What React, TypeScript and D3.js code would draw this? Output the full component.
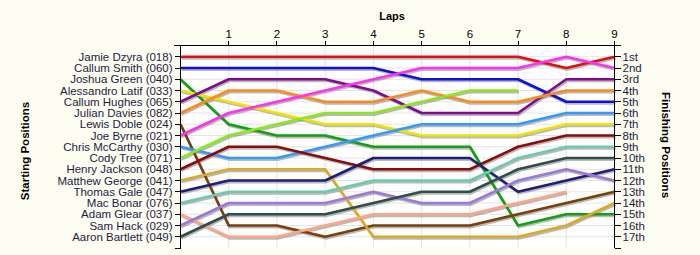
import React from "react";
import * as d3 from "d3";

const drivers = [
  "Jamie Dzyra", "Callum Smith", "Joshua Green", "Alessandro Latif", "Callum Hughes",
  "Julian Davies", "Lewis Doble", "Joe Byrne", "Chris McCarthy", "Cody Tree",
  "Henry Jackson", "Matthew George", "Thomas Gale", "Mac Bonar", "Adam Glear",
  "Sam Hack", "Aaron Bartlett",
];
const carNumbers = [
  "018", "060", "040", "033", "065", "082", "024", "021", "030", "071",
  "048", "041", "047", "076", "037", "029", "049",
];
const lineColors = [
  "#e01010", "#1010d8", "#10a010", "#f2e200", "#800a90", "#ff8a1c", "#7a3e08",
  "#ff30f0", "#3399ff", "#8ce81c", "#8b0a0a", "#dcaa28", "#1e1e78", "#6cccaa",
  "#ffa484", "#9a78e0", "#2e4e4a",
];
// position per lap (lap 0 = start); shorter arrays = retired
const positions: number[][] = [
  [1, 1, 1, 1, 1, 1, 1, 1, 2, 1],
  [2, 2, 2, 2, 2, 3, 3, 3, 5, 5],
  [3, 7, 8, 8, 9, 9, 9, 16, 15, 15],
  [4, 5, 6, 7, 7, 8, 8, 8, 7, 7],
  [5, 3, 3, 3, 4, 6, 6, 6, 3, 3],
  [6, 4, 4, 5, 5, 4, 5, 5, 4, 4],
  [7, 16, 16, 17, 16, 16, 16, 15, 14, 13],
  [8, 6, 5, 4, 3, 2, 2, 2, 1, 2],
  [9, 10, 10, 9, 8, 7, 7, 7, 6, 6],
  [10, 8, 7, 6, 6, 5, 4, 4],
  [11, 9, 9, 10, 11, 11, 11, 9, 8, 8],
  [12, 11, 11, 11, 17, 17, 17, 17, 16, 14],
  [13, 12, 12, 12, 10, 10, 10, 13, 12, 11],
  [14, 13, 13, 13, 12, 12, 12, 10, 9, 9],
  [15, 17, 17, 16, 15, 15, 15, 14, 13],
  [16, 14, 14, 14, 13, 14, 14, 12, 11, 12],
  [17, 15, 15, 15, 14, 13, 13, 11, 10, 10],
];
const lapTicks = [1, 2, 3, 4, 5, 6, 7, 8, 9];
const finishLabels = [
  "1st", "2nd", "3rd", "4th", "5th", "6th", "7th", "8th", "9th", "10th",
  "11th", "12th", "13th", "14th", "15th", "16th", "17th",
];

const W = 700;
const H = 255;
const FONT = "'Liberation Sans', Arial, sans-serif";
const TEXT = "#1c1c44";

export default function App() {
  const x = d3.scaleLinear().domain([0, 9]).range([180.5, 614.5]);
  const y = d3.scaleLinear().domain([0, 18]).range([45.5, 248]);
  const rows = d3.range(1, 18);
  const line = d3
    .line<number>()
    .x((_, i) => x(i))
    .y((d) => y(d));

  return (
    <div style={{ position: "absolute", left: 0, top: 0 }}>
      <svg width={W} height={H} style={{ display: "block" }}>
        <rect x={0} y={0} width={W} height={H} fill="#fdfdf1" />
        <rect x={x(0)} y={y(0)} width={x(9) - x(0)} height={y(18) - y(0)} fill="#ffffff" />
        {/* grid */}
        {rows.map((r) => (
          <line key={"h" + r} x1={x(0)} x2={x(9)} y1={y(r)} y2={y(r)} stroke="#e4e4e4" strokeWidth={1} />
        ))}
        {lapTicks.map((l) => (
          <line key={"v" + l} x1={x(l)} x2={x(l)} y1={y(0)} y2={y(18)} stroke="#e4e4e4" strokeWidth={1} />
        ))}
        {/* shadows */}
        {positions.map((p, i) => (
          <path
            key={"s" + i}
            d={line(p) || ""}
            fill="none"
            stroke="#808080"
            strokeOpacity={0.55}
            strokeWidth={2.6}
            transform="translate(1,1.6)"
          />
        ))}
        {/* lines */}
        {positions.map((p, i) => (
          <path
            key={"l" + i}
            d={line(p) || ""}
            fill="none"
            stroke={lineColors[i]}
            strokeWidth={2.6}
            strokeLinejoin="round"
          />
        ))}
        {/* axes */}
        <g stroke="#000" strokeWidth={1} shapeRendering="crispEdges">
          <line x1={174} x2={621} y1={y(0)} y2={y(0)} />
          <line x1={x(0)} x2={x(0)} y1={y(0) - 1} y2={y(18)} />
          <line x1={x(9)} x2={x(9)} y1={y(0) - 1} y2={y(18)} />
          {lapTicks.map((l) => (
            <line key={"tt" + l} x1={x(l)} x2={x(l)} y1={y(0)} y2={y(0) - 5} />
          ))}
          {[0, ...rows, 18].map((r) => (
            <line key={"lt" + r} x1={x(0) - 6} x2={x(0)} y1={y(r)} y2={y(r)} />
          ))}
          {[0, ...rows, 18].map((r) => (
            <line key={"rt" + r} x1={x(9)} x2={x(9) + 6} y1={y(r)} y2={y(r)} />
          ))}
        </g>
        {/* tick labels */}
        {lapTicks.map((l) => (
          <text key={"tl" + l} x={x(l)} y={y(0) - 8} textAnchor="middle" fontFamily={FONT} fontSize={11.5} fill="#000">
            {l}
          </text>
        ))}
        {rows.map((r, i) => (
          <text key={"ll" + r} x={x(0) - 8} y={y(r)} dy="0.35em" textAnchor="end" fontFamily={FONT} fontSize={11.5} fill={TEXT}>
            {`${drivers[i]} (${carNumbers[i]})`}
          </text>
        ))}
        {rows.map((r, i) => (
          <text key={"rl" + r} x={x(9) + 8} y={y(r)} dy="0.35em" textAnchor="start" fontFamily={FONT} fontSize={11.5} fill={TEXT}>
            {finishLabels[i]}
          </text>
        ))}
        {/* titles */}
        <text x={392} y={20} textAnchor="middle" fontFamily={FONT} fontSize={11} fontWeight="bold" fill="#000">
          Laps
        </text>
        <text
          transform={`translate(29,151) rotate(-90)`}
          textAnchor="middle"
          fontFamily={FONT}
          fontSize={11.5}
          fontWeight="bold"
          fill="#000"
        >
          Starting Positions
        </text>
        <text
          transform={`translate(662,145) rotate(90)`}
          textAnchor="middle"
          fontFamily={FONT}
          fontSize={11.5}
          fontWeight="bold"
          fill="#000"
        >
          Finishing Positions
        </text>
      </svg>
    </div>
  );
}
